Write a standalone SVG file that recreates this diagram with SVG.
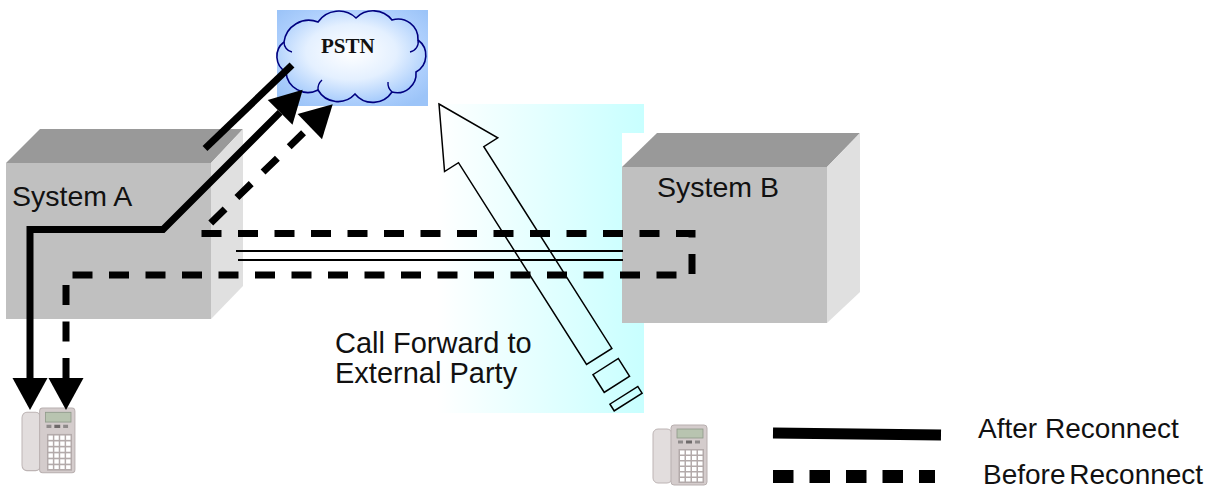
<svg xmlns="http://www.w3.org/2000/svg" width="1223" height="491" viewBox="0 0 1223 491">
  <style>
    .label { font-family: "Liberation Sans", Arial, sans-serif; fill: #111; }
    .sys { font-size: 28.5px; }
    .note { font-size: 29px; }
    .legend { font-size: 28px; }
    .pstn { font-family: "Liberation Serif", "Times New Roman", serif; font-weight: bold; font-size: 21px; fill: #111; }
    .top { fill: #999999; }
    .front { fill: #c0c0c0; }
    .side { fill: #e0e0e0; }
    .after { fill: none; stroke: #000; stroke-width: 7; stroke-linejoin: miter; }
    .before { fill: none; stroke: #000; stroke-width: 7; stroke-dasharray: 20 16.5; stroke-linejoin: miter; }
    .trunk { stroke: #000; stroke-width: 2; }
    .hollow { fill: none; stroke: #000; stroke-width: 1.5; stroke-linejoin: miter; }
  </style>
  <defs>
    <linearGradient id="forwardZone" x1="0" y1="0" x2="1" y2="0">
      <stop offset="0" stop-color="#ffffff"/>
      <stop offset="1" stop-color="#c8ffff"/>
    </linearGradient>
    <radialGradient id="skyFill" cx="0.5" cy="0.45" r="0.65">
      <stop offset="0" stop-color="#e6f1ff"/>
      <stop offset="0.6" stop-color="#b7d5ff"/>
      <stop offset="1" stop-color="#9cc4f8"/>
    </radialGradient>
    <radialGradient id="cloudFill" cx="0.5" cy="0.45" r="0.55">
      <stop offset="0" stop-color="#ffffff"/>
      <stop offset="0.55" stop-color="#e4f0ff"/>
      <stop offset="1" stop-color="#a9cdfc"/>
    </radialGradient>
    <filter id="soft" x="-10%" y="-10%" width="120%" height="120%">
      <feGaussianBlur stdDeviation="0.7"/>
    </filter>
    <marker id="head" markerUnits="userSpaceOnUse" markerWidth="34" markerHeight="36"
            refX="0" refY="17.5" orient="auto-start-reverse" overflow="visible">
      <path d="M0,0 L32,17.5 L0,35 Z" fill="#000"/>
    </marker>
    <!-- desk telephone, drawn in a 54 x 60 box -->
    <g id="phone" filter="url(#soft)">
      <rect x="0" y="4" width="19" height="54" rx="5" fill="#e2dddd" stroke="#bdb4b4" stroke-width="1"/>
      <rect x="18" y="0" width="36" height="60" rx="3" fill="#d4cccc" stroke="#b8afaf" stroke-width="1"/>
      <rect x="24" y="4" width="26" height="9" fill="#b8c4b0" stroke="#8f9a8a" stroke-width="0.8"/>
      <rect x="25" y="15.5" width="5" height="3" fill="#8e8a8a"/>
      <rect x="33" y="15.5" width="6" height="3" fill="#6e6a6a"/>
      <rect x="42" y="15.5" width="5" height="3" fill="#8e8a8a"/>
      <rect x="25.5" y="24" width="25.5" height="34" fill="#b3aaaa"/>
      <g fill="#ffffff">
        <rect x="27" y="25.5" width="4.5" height="4"/><rect x="33" y="25.5" width="4.5" height="4"/><rect x="39" y="25.5" width="4.5" height="4"/><rect x="45" y="25.5" width="4.5" height="4"/>
        <rect x="27" y="31" width="4.5" height="4"/><rect x="33" y="31" width="4.5" height="4"/><rect x="39" y="31" width="4.5" height="4"/><rect x="45" y="31" width="4.5" height="4"/>
        <rect x="27" y="36.5" width="4.5" height="4"/><rect x="33" y="36.5" width="4.5" height="4"/><rect x="39" y="36.5" width="4.5" height="4"/><rect x="45" y="36.5" width="4.5" height="4"/>
        <rect x="27" y="42" width="4.5" height="4"/><rect x="33" y="42" width="4.5" height="4"/><rect x="39" y="42" width="4.5" height="4"/><rect x="45" y="42" width="4.5" height="4"/>
        <rect x="27" y="47.5" width="4.5" height="4"/><rect x="33" y="47.5" width="4.5" height="4"/><rect x="39" y="47.5" width="4.5" height="4"/><rect x="45" y="47.5" width="4.5" height="4"/>
        <rect x="27" y="53" width="4.5" height="3.5"/><rect x="33" y="53" width="4.5" height="3.5"/><rect x="39" y="53" width="4.5" height="3.5"/><rect x="45" y="53" width="4.5" height="3.5"/>
      </g>
    </g>
  </defs>

  <rect width="1223" height="491" fill="#ffffff"/>

  <!-- shaded zone behind the call-forward path -->
  <rect id="forward-zone" x="437" y="104" width="207" height="309" fill="url(#forwardZone)"/>

  <g id="system-a">
    <polygon class="top" points="6,163 40,129 243,129 211,163"/>
    <rect class="front" x="6" y="163" width="205" height="156"/>
    <polygon class="side" points="211,163 243,129 243,286 211,319"/>
    <text class="label sys" x="12" y="206">System A</text>
  </g>

  <g id="pstn">
    <rect x="277" y="10" width="151" height="96" fill="url(#skyFill)"/>
    <path d="M286,72 A18,18 0 0 1 284,42 A25,25 0 0 1 318,22 A25,25 0 0 1 356,18 A24,24 0 0 1 392,20 A20,20 0 0 1 418,40 A19,19 0 0 1 416,72 A19,19 0 0 1 392,92 A23,23 0 0 1 355,94 A23,23 0 0 1 318,90 A22,22 0 0 1 286,72 Z"
          fill="url(#cloudFill)" stroke="#000080" stroke-width="1.6"/>
    <path d="M284,42 A10,10 0 0 0 292,52 M418,40 A10,10 0 0 1 410,52 M392,92 A12,12 0 0 1 388,82 M318,90 A12,12 0 0 1 322,80" fill="none" stroke="#000080" stroke-width="1.4"/>
    <text class="pstn" x="321" y="53">PSTN</text>
  </g>

  <g id="system-b">
    <rect x="622" y="133" width="238" height="190" fill="#ffffff"/>
    <polygon class="top" points="622,167 657,133 860,133 827,167"/>
    <rect class="front" x="622" y="167" width="205" height="156"/>
    <polygon class="side" points="827,167 860,133 860,292 827,323"/>
    <text class="label sys" x="657" y="197">System B</text>
  </g>

  <g id="phone-a">
    <use href="#phone" transform="translate(22,408) scale(0.98,1.08)"/>
  </g>
  <g id="phone-b">
    <use href="#phone" transform="translate(653,425)"/>
  </g>

  <g id="connectors">
    <!-- trunk between the two systems -->
    <line class="trunk" x1="236" y1="251" x2="623" y2="251"/>
    <line class="trunk" x1="238" y1="260" x2="623" y2="260"/>
    <!-- call forward to the external party -->
    <g id="call-forward" transform="translate(439,104) rotate(57.6)">
      <path class="hollow" d="M0,0 L60,-31.5 L60,-15 L299,-15 L299,15 L60,15 L60,31.5 Z"/>
      <rect class="hollow" x="311" y="-15" width="21" height="30"/>
      <rect class="hollow" x="345" y="-16.5" width="8" height="33"/>
    </g>
    <!-- before reconnect: phone -> System A -> System B -> System A -> PSTN -->
    <path class="before" d="M66,378 L66,275 L692,275 L692,233.5 L200,233.5 L309.8,126.6"
          marker-start="url(#head)" marker-end="url(#head)"/>
    <!-- after reconnect: phone -> System A -> PSTN -->
    <path class="after" d="M30,378 L30,229.5 L163,229.5 L280.1,112.4"
          marker-start="url(#head)" marker-end="url(#head)"/>
    <line class="after" x1="205" y1="148.5" x2="292" y2="65"/>
  </g>

  <text class="label note" x="335" y="353">Call Forward to</text>
  <text class="label note" x="335" y="383">External Party</text>

  <g id="legend">
    <line x1="773" y1="433" x2="941" y2="435" stroke="#000" stroke-width="11"/>
    <line x1="773" y1="476.5" x2="935" y2="476.5" stroke="#000" stroke-width="13" stroke-dasharray="20.5 16"/>
    <text class="label legend" x="978" y="438">After Reconnect</text>
    <text class="label legend" x="983" y="484" word-spacing="-4">Before Reconnect</text>
  </g>
</svg>
